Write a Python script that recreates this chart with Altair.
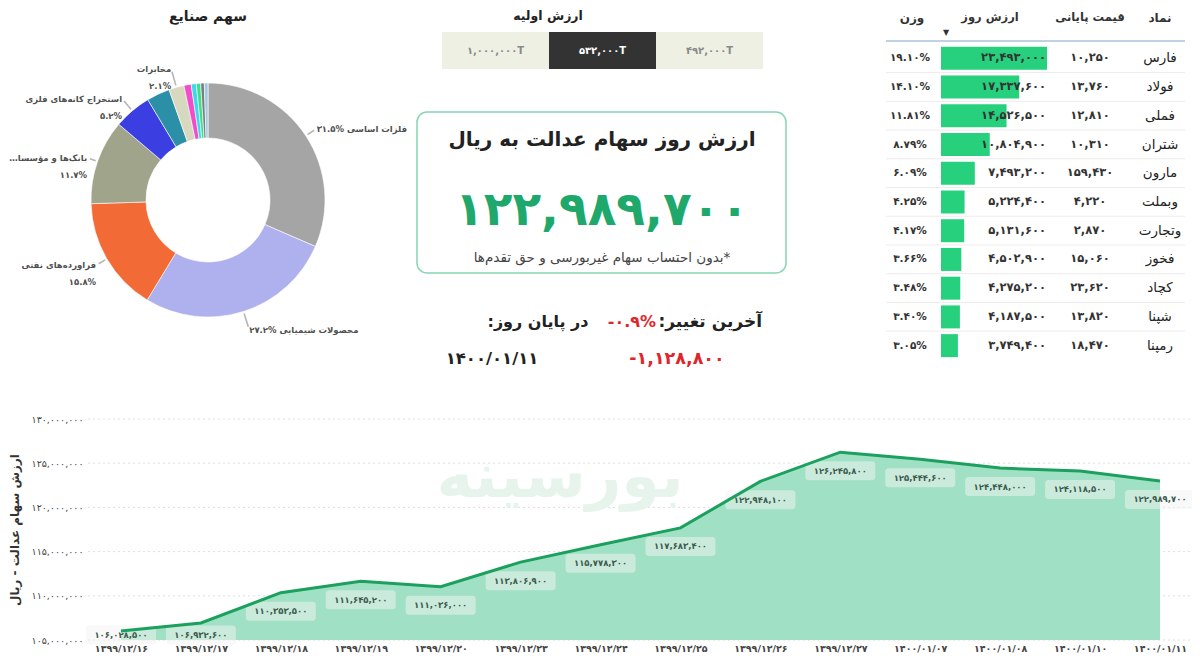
import altair as alt
import pandas as pd

FA_DIGITS = "۰۱۲۳۴۵۶۷۸۹"
TR = str.maketrans("0123456789", FA_DIGITS)


def fa(s):
    return str(s).translate(TR)


def fa_int(v):
    return fa(f"{v:,}")


ZWNJ = "\u200c"
RLM = "\u200f"

# ---------------- data ----------------
industry_names = ["فلزات اساسی", "محصولات شیمیایی", "فراورده" + ZWNJ + "های نفتی",
                  "بانک" + ZWNJ + "ها و مؤسسات اعتباری", "استخراج کانه" + ZWNJ + "های فلزی",
                  "سایر ۱", "مخابرات", "سایر ۲", "سایر ۳", "سایر ۴", "سایر ۵", "سایر ۶"]
industry_shown = ["فلزات اساسی", "محصولات شیمیایی", "فراورده" + ZWNJ + "های نفتی",
                  "…بانک" + ZWNJ + "ها و مؤسسا", "استخراج کانه" + ZWNJ + "های فلزی",
                  "", "مخابرات", "", "", "", "", ""]
industry_share = [31.5, 27.2, 15.8, 11.7, 5.2, 3.2, 2.1, 1.0, 0.7, 0.6, 0.5, 0.5]
industry_colors = ["#a5a5a5", "#aeb1ee", "#f26a36", "#a0a48a", "#3b3ee0", "#2b8fa7",
                   "#d6d9be", "#f04dc9", "#41d6ea", "#3ddf8c", "#7d7d7d", "#9ec9e0"]

initial_options = [1000000, 532000, 492000]
initial_selected = 532000

headline_value = 122989700
last_change_pct = "-0.9%"
last_change_value = -1128800
last_date = "1400/01/11"

symbols = ["فارس", "فولاد", "فملی", "شتران", "مارون", "وبملت", "وتجارت", "فخوز", "کچاد", "شپنا", "رمپنا"]
close_price = [10250, 13760, 12810, 10310, 159430, 4220, 2870, 15060, 23620, 13820, 18470]
day_value = [23493000, 17337600, 14526500, 10804900, 7493200, 5224400, 5131600, 4502900, 4275200, 4187500, 3749400]
weight_pct = [19.10, 14.10, 11.81, 8.79, 6.09, 4.25, 4.17, 3.66, 3.48, 3.40, 3.05]

dates = ["1399/12/16", "1399/12/17", "1399/12/18", "1399/12/19", "1399/12/20", "1399/12/23",
         "1399/12/24", "1399/12/25", "1399/12/26", "1399/12/27", "1400/01/07", "1400/01/08",
         "1400/01/10", "1400/01/11"]
portfolio_value = [106028500, 106932600, 110353500, 111645200, 111036000, 113806900, 115778300,
                   117683400, 122948100, 126245800, 125444600, 124448000, 124118500, 122989700]
y_ticks = [105000000, 110000000, 115000000, 120000000, 125000000, 130000000]

FONT = "DejaVu Sans"
W, H = 1184, 648


def note(text, x, y, size, color="#222222", weight="normal", align="center", baseline="middle"):
    return alt.Chart(pd.DataFrame({"t": [text]})).mark_text(
        fontSize=size, fontWeight=weight, color=color, align=align, baseline=baseline
    ).encode(text="t:N", x=alt.value(x), y=alt.value(y))


# ---------------- pie (industry share) ----------------
pie_labels = []
for name, share in zip(industry_shown, industry_share):
    pct = fa(f"{share:.1f}%")
    if not name:
        pie_labels.append("")
    elif share >= 20:
        pie_labels.append(pct + " " + name)
    else:
        pie_labels.append(name + "\n" + pct)

df_pie = pd.DataFrame({"idx": range(len(industry_names)), "name": industry_names,
                       "share": industry_share, "label": pie_labels})
theta_scale = alt.Scale(domain=[0, 100])
CX, CY = 200, 192
R_OUT, R_IN = 117, 62

donut = alt.Chart(df_pie).mark_arc(outerRadius=R_OUT, innerRadius=R_IN, stroke="white", strokeWidth=0.6).encode(
    theta=alt.Theta("share:Q", stack=True, scale=theta_scale),
    order=alt.Order("idx:Q"),
    color=alt.Color("name:N", scale=alt.Scale(domain=industry_names, range=industry_colors), legend=None),
    x=alt.value(CX), y=alt.value(CY),
)

# labels at each slice's mid angle; pushed a little further out near the top and bottom
lab_base = alt.Chart(df_pie).transform_window(
    cum="sum(share)", sort=[alt.SortField("idx")], frame=[None, 0]
).transform_calculate(
    mid="datum.cum - datum.share / 2",
).transform_calculate(
    lo="datum.mid - 0.1", hi="datum.mid + 0.1",
    lr=f"{R_OUT + 10} + 10 * pow(cos(datum.mid / 100 * 2 * PI), 2)",
).transform_calculate(
    le="datum.lr - 3", l0=f"{R_OUT + 2}",
).transform_filter("datum.label != ''")

leaders = lab_base.mark_arc(color="#b5b5b5").encode(
    theta=alt.Theta("lo:Q", stack=None, scale=theta_scale), theta2="hi:Q",
    radius=alt.Radius("le:Q", scale=None), radius2="l0:Q",
    x=alt.value(CX), y=alt.value(CY),
)


def pie_text(cond, align):
    return lab_base.transform_filter(cond).mark_text(
        align=align, baseline="middle", lineBreak="\n", fontSize=8.5, fontWeight="bold",
        color="#505050", lineHeight=17
    ).encode(theta=alt.Theta("mid:Q", stack=None, scale=theta_scale),
             radius=alt.Radius("lr:Q", scale=None), text="label:N",
             x=alt.value(CX), y=alt.value(CY))


lab_right = pie_text("datum.mid < 50", "left")
lab_left = pie_text("datum.mid >= 50", "right")
pie_title = note("سهم صنایع", CX, 9, 14, weight="bold")

# ---------------- center panel ----------------
opt_labels = [fa_int(v) + "T" for v in initial_options]
df_opt = pd.DataFrame({"opt": opt_labels,
                       "state": ["on" if v == initial_selected else "off" for v in initial_options]})
opt_x = alt.X("opt:N", sort=opt_labels, axis=None,
              scale=alt.Scale(domain=opt_labels, range=[434, 755], paddingInner=0, paddingOuter=0))
buttons = alt.Chart(df_opt).mark_rect().encode(
    x=opt_x, y=alt.value(24), y2=alt.value(61),
    color=alt.Color("state:N", scale=alt.Scale(domain=["on", "off"], range=["#333333", "#eef0e4"]), legend=None),
)
button_text = alt.Chart(df_opt).mark_text(fontSize=10, fontWeight="bold").encode(
    x=opt_x, y=alt.value(43), text="opt:N",
    color=alt.condition("datum.state == 'on'", alt.value("white"), alt.value("#8a8a8a")),
)
opt_title = note("ارزش اولیه", 540, 8, 12.5, weight="bold")

box = alt.Chart(pd.DataFrame({"k": [1]})).mark_rect(
    cornerRadius=10, fill="white", stroke="#86d5b3", strokeWidth=1.5
).encode(x=alt.value(409), x2=alt.value(778), y=alt.value(104), y2=alt.value(265))
box_title = note("ارزش روز سهام عدالت به ریال", 594, 132, 20, weight="bold")
box_value = note(fa_int(headline_value), 594, 203, 47, color="#1fa86c", weight="bold")
box_foot = note("بدون احتساب سهام غیربورسی و حق تقدم" + ZWNJ + "ها*", 594, 250, 13.5, color="#444444")

chg_label = note("آخرین تغییر:" + RLM, 754, 314, 17, weight="bold", align="right")
chg_pct = note(fa(last_change_pct), 624, 314, 16, color="#e0262b", weight="bold")
end_label = note("در پایان روز:" + RLM, 530, 314, 16, weight="bold")
chg_val = note(fa_int(last_change_value), 669, 351, 17.5, color="#e0262b", weight="bold")
end_date = note(fa(last_date), 484, 351, 16.5, weight="bold")

# ---------------- table ----------------
df_tab = pd.DataFrame({
    "idx": range(len(symbols)), "sym": symbols, "price": [fa_int(v) for v in close_price],
    "value": day_value, "value_s": [fa_int(v) for v in day_value],
    "weight": [fa(f"{w:.2f}%") for w in weight_pct],
})
row_scale = alt.Scale(domain=symbols, range=[36, 352], paddingInner=0.2, paddingOuter=0.1)
row_y = alt.Y("sym:N", sort=symbols, scale=row_scale, axis=None)

separators = alt.Chart(df_tab).transform_filter("datum.idx > 0").mark_rule(
    color="#ececec", strokeWidth=1, yOffset=-3
).encode(y=alt.Y("sym:N", sort=symbols, scale=row_scale, axis=None, bandPosition=0),
         x=alt.value(878), x2=alt.value(1177))
head_line = alt.Chart(pd.DataFrame({"k": [1]})).mark_rule(color="#a9c3da", strokeWidth=1.5).encode(
    y=alt.value(33), x=alt.value(878), x2=alt.value(1177))
bars = alt.Chart(df_tab).mark_bar(color="#27d07d").encode(
    y=row_y,
    x=alt.X("value:Q", axis=None, scale=alt.Scale(zero=True, nice=False, range=[933, 1039])),
    x2=alt.value(933),
)
t_sym = alt.Chart(df_tab).mark_text(fontSize=13.5, color="#222222").encode(
    y=row_y, x=alt.value(1152), text="sym:N")
t_price = alt.Chart(df_tab).mark_text(fontSize=11.5, color="#333333", fontWeight="bold").encode(
    y=row_y, x=alt.value(1082), text="price:N")
t_value = alt.Chart(df_tab).mark_text(fontSize=11.5, color="#333333", fontWeight="bold", align="right").encode(
    y=row_y, x=alt.value(1038), text="value_s:N")
t_weight = alt.Chart(df_tab).mark_text(fontSize=10.5, color="#333333", fontWeight="bold").encode(
    y=row_y, x=alt.value(902), text="weight:N")
h1 = note("نماد", 1152, 10, 12, weight="bold", color="#333333")
h2 = note("قیمت پایانی", 1082, 10, 11.5, weight="bold", color="#333333")
h3 = note("ارزش روز", 982, 10, 11.5, weight="bold", color="#333333")
h4 = note("وزن", 904, 10, 12, weight="bold", color="#333333")
h_sort = note("▼", 938, 25, 8, color="#333333")

# ---------------- area chart ----------------
date_labels = [fa(d) for d in dates]
df_line = pd.DataFrame({"date": date_labels, "v": portfolio_value,
                        "lbl": [fa_int(v) for v in portfolio_value]})

label_expr = "format(datum.value, ',')"
for i, d in enumerate(FA_DIGITS):
    label_expr = f"replace({label_expr}, /{i}/g, '{d}')"

Y_LO, Y_HI = 105000000, 130000000
PB, PT = 632, 411          # plot bottom / top (pixels)
px = (Y_HI - Y_LO) / (PB - PT)   # value per pixel

x_scale = alt.Scale(type="point", domain=date_labels, range=[113, 1152], padding=0)
y_scale = alt.Scale(domain=[Y_LO, Y_HI], range=[PB, PT], zero=False, nice=False)
x_plain = alt.X("date:O", sort=None, scale=x_scale, axis=None)
y_plain = alt.Y("v:Q", scale=y_scale, axis=None)
y_lbl = alt.Y("ly:Q", scale=y_scale, axis=None)
x_axis = alt.X("date:O", sort=None, scale=x_scale,
               axis=alt.Axis(title=None, orient="bottom", offset=-(H - PB), labelAngle=0, domain=False,
                             ticks=False, grid=False, labelPadding=3, labelFontSize=9.5,
                             labelFontWeight="bold", labelColor="#444444"))
y_axis = alt.Y("v:Q", scale=y_scale,
               axis=alt.Axis(title="ارزش سهام عدالت - ریال", orient="left", offset=-80, values=y_ticks,
                             labelExpr=label_expr, domain=False, ticks=False, grid=False, labelPadding=5,
                             labelFontSize=9.5, labelColor="#444444", titleFontSize=12,
                             titleFontWeight="bold", titleColor="#333333", titlePadding=10))

df_grid = pd.DataFrame({"v": y_ticks})
grid = alt.Chart(df_grid).mark_rule(color="#dedede", strokeDash=[2, 3], strokeWidth=1).encode(
    y=y_plain, x=alt.value(80), x2=alt.value(W))

base = alt.Chart(df_line)
# value labels sit ~18px under each point, but never below the bottom of the plot
lbl_base = base.transform_calculate(ly=f"max(datum.v - {18.5 * px}, {Y_LO + 5 * px})")
watermark = note("بورسینه", 552, 470, 62, color="#e6f4ec", weight="bold")
area = base.mark_area(color="#a0e0c4").encode(x=x_axis, y=y_axis, y2=alt.datum(Y_LO))
boxes = lbl_base.mark_rect(fill="#f4f4f4", opacity=0.5, cornerRadius=3, xOffset=-35, x2Offset=35,
                           yOffset=-9.5, y2Offset=9.5).encode(x=x_plain, x2="date:O", y=y_lbl, y2="ly:Q")
line = base.mark_line(color="#1ba05e", strokeWidth=3).encode(x=x_plain, y=y_plain)
vals = lbl_base.mark_text(fontSize=8.5, fontWeight="bold", color="#3d5c4e").encode(
    x=x_plain, y=y_lbl, text="lbl:N")

chart = alt.layer(
    box, donut, leaders, lab_right, lab_left, pie_title,
    buttons, button_text, opt_title, box_title, box_value, box_foot,
    chg_label, chg_pct, end_label, chg_val, end_date,
    separators, head_line, bars, t_sym, t_price, t_value, t_weight, h1, h2, h3, h4, h_sort,
    grid, watermark, area, boxes, line, vals,
).resolve_scale(x="independent", y="independent", color="independent").properties(
    width=W, height=H, autosize=alt.AutoSizeParams(type="none"),
    padding={"left": 0, "top": 0, "right": 0, "bottom": 0},
).configure(font=FONT).configure_view(stroke=None)

chart.save("out.html", embed_options={"renderer": "svg", "actions": False})
